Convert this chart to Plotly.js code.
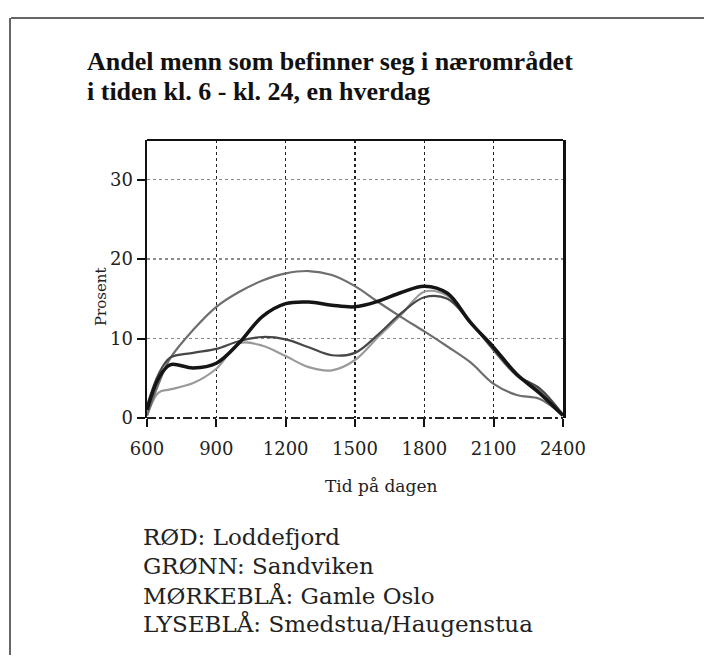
<!DOCTYPE html>
<html>
<head>
<meta charset="utf-8">
<script src="https://cdn.plot.ly/plotly-3.0.1.min.js"></script>
<style>html,body{margin:0;padding:0;background:#fff;}#chart{width:704px;height:667px;}</style>
</head>
<body>
<div id="chart"></div>
<script>
// Time of day (HHMM) and share (%) of men in the local area
const times = [600, 650, 700, 800, 900, 1000, 1100, 1200, 1300, 1400, 1500, 1600, 1700, 1800, 1900, 2000, 2100, 2200, 2300, 2400];
const gamleOslo   = [1.0, 5.0, 6.7, 6.3, 6.9, 9.5, 12.8, 14.4, 14.6, 14.2, 14.0, 14.7, 15.8, 16.6, 15.7, 12.0, 8.9, 5.5, 3.1, 0.3];
const sandviken   = [0.3, 4.3, 7.5, 11.1, 14.0, 15.9, 17.3, 18.2, 18.5, 18.0, 16.6, 14.6, 12.7, 10.9, 9.0, 7.0, 4.3, 2.9, 2.4, 0.3];
const loddefjord  = [1.5, 5.5, 7.6, 8.2, 8.7, 9.7, 10.2, 9.9, 8.9, 7.9, 8.2, 10.5, 13.2, 15.2, 15.0, 12.0, 8.6, 5.4, 3.7, 0.4];
const smedstua    = [0.3, 3.2, 3.6, 4.4, 6.2, 9.4, 9.1, 7.8, 6.4, 6.0, 7.3, 10.2, 13.0, 15.9, 15.4, 12.2, 8.5, 5.3, 3.4, 0.5];

const seriesNames = ['Gamle Oslo', 'Sandviken', 'Loddefjord', 'Smedstua/Haugenstua'];
const xTicks = [600, 900, 1200, 1500, 1800, 2100, 2400];
const xTickLabels = ['600', '900', '1200', '1500', '1800', '2100', '2400'];
const yTicks = [0, 10, 20, 30];
const yTickLabels = ['0', '10', '20', '30'];
const titleLines = ['Andel menn som befinner seg i nærområdet', 'i tiden kl. 6 - kl. 24, en hverdag'];
const xTitle = 'Tid på dagen';
const yTitle = 'Prosent';
const legendLines = ['RØD: Loddefjord', 'GRØNN: Sandviken', 'MØRKEBLÅ: Gamle Oslo', 'LYSEBLÅ: Smedstua/Haugenstua'];

const serif = 'DejaVu Serif, Liberation Serif, serif';
const titleSerif = 'Liberation Serif, DejaVu Serif, serif';

const styles = [
  {color: '#151515', width: 3.5},
  {color: '#6e6e6e', width: 2.2},
  {color: '#474747', width: 2.2},
  {color: '#9a9a9a', width: 2.2}
];
const seriesValues = [gamleOslo, sandviken, loddefjord, smedstua];

// draw lighter lines first, thick dark on top
const order = [3, 1, 2, 0];
const traces = order.map(i => ({
  type: 'scatter', mode: 'lines', name: seriesNames[i],
  x: times, y: seriesValues[i],
  line: {color: styles[i].color, width: styles[i].width, shape: 'spline', smoothing: 1.0},
  hoverinfo: 'x+y+name'
}));

// pixel helpers for annotation placement (plot area: x 147..563, y 140..418)
const L = 147, R = 563, T = 140, B = 418;
const px = v => (v - L) / (R - L);
const py = v => (B - v) / (B - T);

const legendY = [537, 566, 595, 623];
const annotations = legendLines.map((t, k) => ({
  text: t, xref: 'paper', yref: 'paper', x: px(141), y: py(legendY[k]),
  xanchor: 'left', yanchor: 'middle', showarrow: false,
  font: {family: serif, size: 23, color: '#222'}
}));
annotations.push({
  text: xTitle, xref: 'paper', yref: 'paper', x: px(381), y: py(486),
  xanchor: 'center', yanchor: 'middle', showarrow: false,
  font: {family: serif, size: 17, color: '#222'}
});
annotations.push({
  text: yTitle, xref: 'paper', yref: 'paper', x: px(101), y: py(297),
  xanchor: 'center', yanchor: 'middle', showarrow: false, textangle: -90,
  font: {family: serif, size: 15, color: '#222'}
});
annotations.push({
  text: '<b>' + titleLines[0] + '</b>', xref: 'paper', yref: 'paper', x: px(85), y: py(62),
  xanchor: 'left', yanchor: 'middle', showarrow: false,
  font: {family: titleSerif, size: 26, color: '#111'}
});
annotations.push({
  text: '<b>' + titleLines[1] + '</b>', xref: 'paper', yref: 'paper', x: px(85), y: py(91),
  xanchor: 'left', yanchor: 'middle', showarrow: false,
  font: {family: titleSerif, size: 26, color: '#111'}
});

const shapes = [
  // plot frame top
  {type: 'line', xref: 'paper', yref: 'paper', x0: 0, x1: 1, y0: 1, y1: 1, line: {color: '#111', width: 2}},
  // dash-dot base line
  {type: 'line', xref: 'paper', yref: 'paper', x0: 0, x1: 1, y0: 0, y1: 0, line: {color: '#222', width: 2, dash: 'dashdot'}},
  // outer page frame (scan border)
  {type: 'line', xref: 'paper', yref: 'paper', x0: px(11), x1: px(704), y0: py(18), y1: py(18), line: {color: '#333', width: 1.5}},
  {type: 'line', xref: 'paper', yref: 'paper', x0: px(10), x1: px(10), y0: py(18), y1: py(655), line: {color: '#333', width: 1.5}}
];

const layout = {
  width: 704, height: 667,
  margin: {l: L, r: 704 - R, t: T, b: 667 - B, pad: 0},
  paper_bgcolor: '#ffffff', plot_bgcolor: '#ffffff',
  showlegend: false,
  xaxis: {
    range: [600, 2400], tickvals: xTicks, ticktext: xTickLabels,
    ticks: 'outside', ticklen: 8, tickwidth: 2, tickcolor: '#111',
    ticklabelstandoff: 6,
    showgrid: true, gridcolor: '#222', gridwidth: 1.5, griddash: 'dot',
    showline: false, zeroline: false,
    tickfont: {family: serif, size: 18, color: '#222'}
  },
  yaxis: {
    range: [0, 35], tickvals: yTicks, ticktext: yTickLabels,
    ticks: 'outside', ticklen: 8, tickwidth: 2, tickcolor: '#111',
    showgrid: true, gridcolor: '#8a8a8a', gridwidth: 1.3, griddash: 'dot',
    showline: true, linecolor: '#111', linewidth: 2.5, mirror: true,
    zeroline: false,
    tickfont: {family: serif, size: 18, color: '#222'}
  },
  annotations: annotations,
  shapes: shapes
};

Plotly.newPlot('chart', traces, layout, {displayModeBar: false, staticPlot: true});
</script>
</body>
</html>
